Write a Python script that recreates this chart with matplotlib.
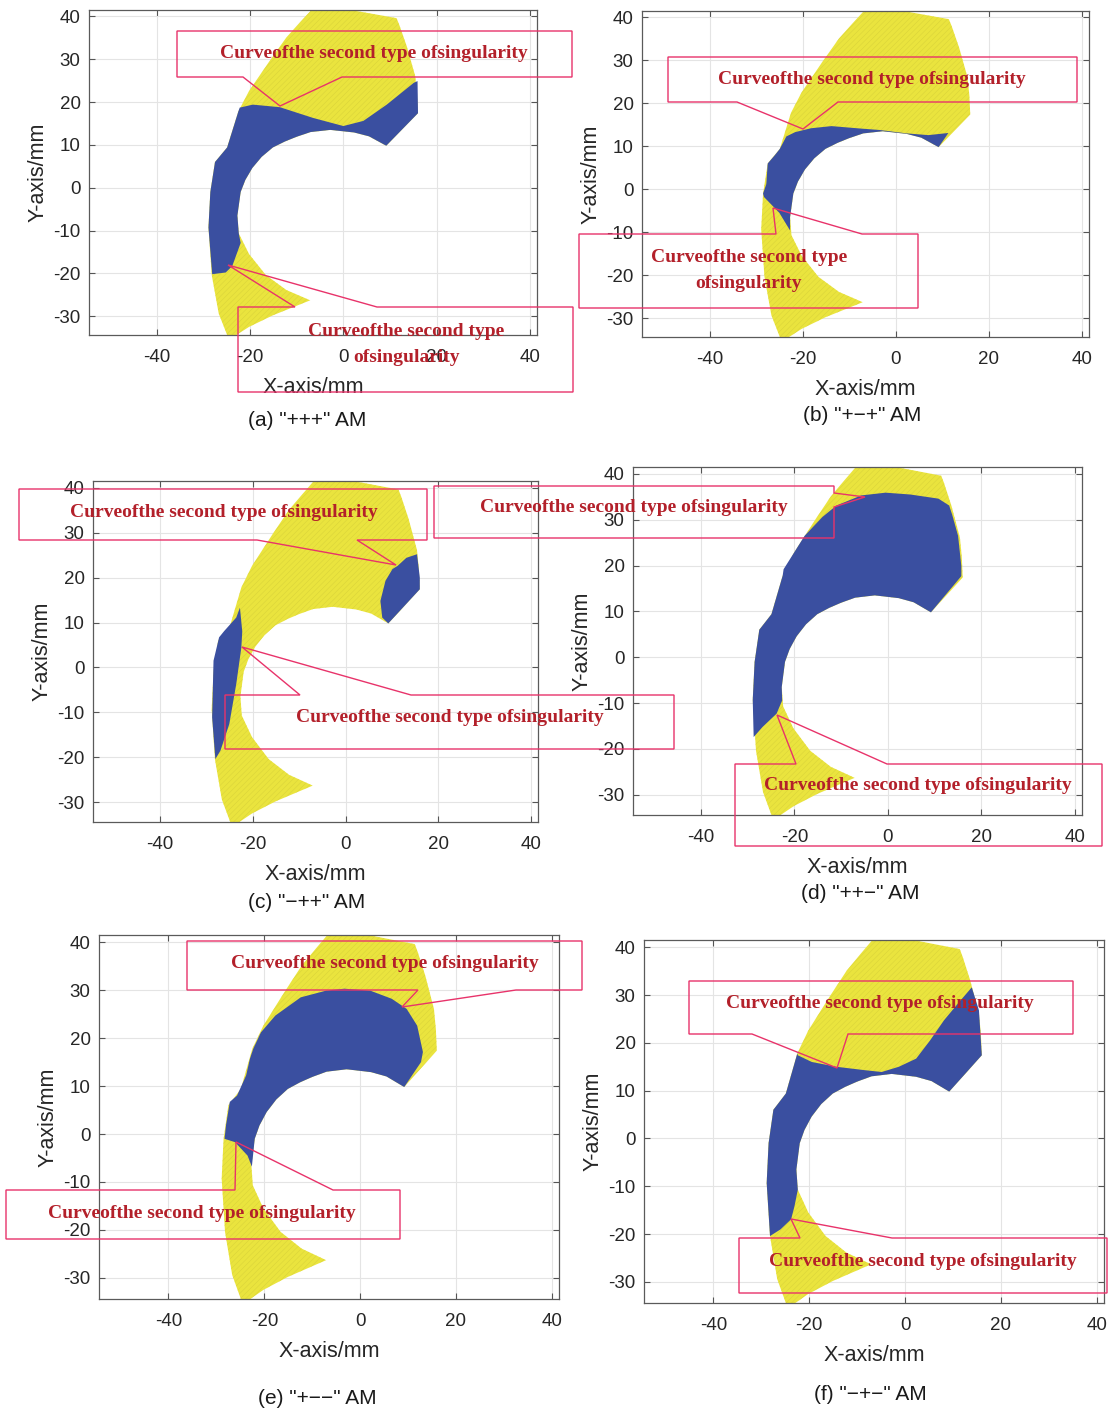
import matplotlib
matplotlib.use("Agg")
import matplotlib.pyplot as plt
from matplotlib.patches import Polygon

W, H, DPI = 1114, 1409, 100

plt.rcParams["axes.unicode_minus"] = False
plt.rcParams["hatch.linewidth"] = 0.35

YELLOW = "#EAE43E"
HATCH = "#D8D23A"
BLUE = "#3A4FA0"
PINK = "#E8336A"
DARKRED = "#B3202A"

# ---------------------------------------------------------------------------
# Reachable workspace of the moving platform (mm): closed outline
ws_x = [-6.0, -3.5, 11.4, 12.0, 13.6, 15.4, 15.8, 16.0, 9.2,
        5.5, 2.3, -2.8, -7.0, -10.0, -12.5, -15.1, -17.5, -19.5, -21.0, -22.0,
        -22.7, -22.4, -20.2, -16.6, -12.2, -7.1,
        -15.1, -20.2, -24.5,
        -26.7, -28.2, -28.9, -28.5, -27.5, -24.9, -23.5, -22.5, -20.2, -15.8,
        -12.2, -9.3]
ws_y = [42.5, 42.5, 39.6, 38.0, 33.0, 26.1, 21.9, 17.4, 9.8,
        12.0, 12.9, 13.5, 13.0, 11.9, 10.8, 9.4, 7.2, 4.6, 1.8, -1.0,
        -6.5, -10.7, -15.5, -20.4, -23.9, -26.3,
        -29.8, -32.5, -35.5,
        -29.4, -20.4, -9.3, -1.0, 6.0, 9.4, 14.3, 17.8, 22.6, 29.6,
        35.1, 38.6]

# Sub-region reachable in each assembly mode (mm)
blue_a_x = [-22.2, -19.4, -13.6, -6.5, 0.0, 4.3, 9.3, 15.1, 15.9, 16.0, 9.2,
            5.5, 2.3, -2.8, -7.0, -10.0, -12.5, -15.1, -17.5, -19.5, -21.0,
            -22.0, -22.7, -22.4, -22.0, -23.8, -25.2, -28.1, -28.9, -28.5,
            -27.5, -24.9, -23.5, -22.5]
blue_a_y = [18.7, 19.4, 18.8, 16.3, 14.4, 15.6, 19.4, 24.5, 24.9, 17.4, 9.8,
            12.0, 12.9, 13.5, 13.0, 11.9, 10.8, 9.4, 7.2, 4.6, 1.8,
            -1.0, -6.5, -10.7, -12.9, -18.3, -19.8, -20.2, -9.3, -1.0,
            6.0, 9.4, 14.3, 17.8]

blue_b_x = [-23.5, -21.6, -18.2, -13.8, -7.2, -3.5, 2.4, 7.0, 11.3, 9.2,
            5.5, 2.3, -2.8, -7.0, -10.0, -12.5, -15.1, -17.5, -19.5, -21.0,
            -22.0, -22.7, -22.7, -25.0, -28.3, -28.5, -27.8, -27.5, -26.0,
            -24.9]
blue_b_y = [12.3, 13.3, 14.2, 14.7, 14.1, 13.8, 13.0, 12.6, 13.1, 9.8,
            12.0, 12.9, 13.5, 13.0, 11.9, 10.8, 9.4, 7.2, 4.6, 1.8,
            -1.0, -6.5, -9.6, -5.5, -1.8, -1.0, 1.2, 6.0, 7.9,
            9.4]

blue_c1_x = [11.2, 13.1, 15.4, 16.0, 16.0, 9.2, 7.9, 7.5, 8.6, 10.1]
blue_c1_y = [22.6, 24.4, 25.2, 20.0, 17.4, 9.8, 11.1, 14.8, 19.3, 21.9]
blue_c2_x = [-22.8, -22.3, -22.5, -23.6, -25.1, -27.0, -28.1, -28.8, -28.5,
             -27.3, -26.2, -23.6]
blue_c2_y = [13.3, 8.0, 4.4, -3.7, -12.6, -18.5, -20.4, -11.1, 1.5,
             6.7, 8.1, 11.1]

blue_d_x = [-22.3, -17.8, -14.0, -11.0, -5.7, -0.5, 4.8, 10.8, 13.1, 13.8,
            15.0, 15.7, 15.7, 9.2, 5.5, 2.3, -2.8, -7.0, -10.0, -12.5, -15.1,
            -17.5, -19.5, -21.0, -22.0, -22.7, -22.6, -23.8, -26.8, -28.7,
            -28.9, -28.5, -27.5, -24.9, -23.5, -22.5]
blue_d_y = [19.2, 26.5, 30.6, 33.1, 35.3, 35.9, 35.5, 34.6, 33.1, 30.9,
            26.5, 19.9, 17.7, 9.8, 12.0, 12.9, 13.5, 13.0, 11.9, 10.8, 9.4,
            7.2, 4.6, 1.8, -1.0, -6.5, -9.4, -12.3, -15.2, -17.4,
            -9.3, -1.0, 6.0, 9.4, 14.3, 17.8]

blue_e_x = [-22.3, -20.7, -17.7, -12.4, -7.1, -3.3, 2.1, 6.6, 9.7, 11.9,
            13.1, 12.7, 9.2, 5.5, 2.3, -2.8, -7.0, -10.0, -12.5, -15.1, -17.5,
            -19.5, -21.0, -22.0, -22.6, -23.5, -26.1, -28.3, -28.0, -27.2,
            -25.7, -23.8, -23.0]
blue_e_y = [17.8, 21.2, 24.7, 28.5, 29.9, 30.3, 29.9, 28.2, 26.1, 22.6,
            17.1, 15.0, 9.8, 12.0, 12.9, 13.5, 13.0, 11.9, 10.8, 9.4, 7.2,
            4.6, 1.8, -1.0, -6.8, -4.5, -1.7, -1.0, 1.8, 6.7,
            8.0, 12.2, 15.7]

blue_f_x = [-22.4, -19.5, -14.4, -8.6, -4.9, -1.3, 2.3, 5.2, 8.1, 11.0, 13.9,
            15.4, 16.0, 9.2, 5.5, 2.3, -2.8, -7.0, -10.0, -12.5, -15.1, -17.5,
            -19.5, -21.0, -22.0, -22.7, -22.4, -23.1, -23.8, -26.0, -28.2,
            -28.9, -28.5, -27.5, -24.9, -23.5, -22.5]
blue_f_y = [17.4, 16.0, 15.0, 14.3, 13.9, 15.0, 16.7, 20.5, 24.7, 28.2, 31.6,
            26.8, 17.4, 9.8, 12.0, 12.9, 13.5, 13.0, 11.9, 10.8, 9.4, 7.2,
            4.6, 1.8, -1.0, -6.5, -10.7, -14.2, -16.9, -19.0, -20.4,
            -9.3, -1.0, 6.0, 9.4, 14.3, 17.8]

captions = ['(a) "+++" AM', '(b) "+\u2212+" AM', '(c) "\u2212++" AM',
            '(d) "++\u2212" AM', '(e) "+\u2212\u2212" AM', '(f) "\u2212+\u2212" AM']
blue_regions = [
    [(blue_a_x, blue_a_y)],
    [(blue_b_x, blue_b_y)],
    [(blue_c1_x, blue_c1_y), (blue_c2_x, blue_c2_y)],
    [(blue_d_x, blue_d_y)],
    [(blue_e_x, blue_e_y)],
    [(blue_f_x, blue_f_y)],
]
x_ticks = [-40, -20, 0, 20, 40]
y_ticks = [-30, -20, -10, 0, 10, 20, 30, 40]
callout_text = "Curveofthe second type ofsingularity"

# ---------------------------------------------------------------------------
# Layout (pixels, origin at top-left of the figure)
axes_px = [(89, 10, 537, 335), (642, 11, 1089, 337),
           (93, 481, 538, 822), (633, 467, 1082, 815),
           (99, 935, 559, 1299), (644, 940, 1104, 1303)]
caption_px = [(307, 420), (862, 416), (307, 902), (860, 894),
              (317, 1398), (870, 1394)]

# callouts: box (x0, y0, x1, y1), side with the pointer, pointer base, tip,
# text lines with their centres
callouts = [
    ((177, 31, 572, 77), "bottom", (243, 342), (280, 106), [(callout_text, 374, 53)]),
    ((238, 307, 573, 392), "top", (295, 377), (228, 265),
     [("Curveofthe second type", 406, 331), ("ofsingularity", 406, 357)]),
    ((668, 57, 1077, 102), "bottom", (737, 838), (803, 129), [(callout_text, 872, 80)]),
    ((579, 234, 918, 308), "top", (776, 862), (773, 208),
     [("Curveofthe second type", 749, 257), ("ofsingularity", 749, 284)]),
    ((19, 489, 427, 540), "bottom", (257, 357), (396, 565), [(callout_text, 224, 512)]),
    ((225, 695, 674, 749), "top", (300, 411), (242, 647), [(callout_text, 450, 718)]),
    ((434, 486, 834, 538), "right", (493, 507), (865, 497), [(callout_text, 634, 508)]),
    ((735, 764, 1102, 846), "top", (796, 887), (777, 715), [(callout_text, 918, 786)]),
    ((187, 941, 582, 990), "bottom", (418, 516), (402, 1007), [(callout_text, 385, 964)]),
    ((6, 1190, 400, 1239), "top", (235, 333), (236, 1142), [(callout_text, 202, 1213)]),
    ((689, 981, 1073, 1034), "bottom", (752, 848), (837, 1068), [(callout_text, 880, 1004)]),
    ((739, 1238, 1107, 1293), "top", (800, 892), (791, 1219), [(callout_text, 923, 1261)]),
]


def fig_xy(x, y):
    return (x / W, 1 - y / H)


fig = plt.figure(figsize=(W / DPI, H / DPI), dpi=DPI)
fig.patch.set_facecolor("white")

for (l, t, r, b), cap, regions, (cx, cy) in zip(axes_px, captions, blue_regions, caption_px):
    ax = fig.add_axes([l / W, 1 - b / H, (r - l) / W, (b - t) / H])
    ax.set_xlim(-54.5, 41.5)
    ax.set_ylim(-34.4, 41.5)
    ax.set_axisbelow(True)
    ax.grid(True, color="#e4e4e4", lw=0.8)
    ax.fill(ws_x, ws_y, facecolor=YELLOW, edgecolor=HATCH, hatch="//////",
            lw=0, zorder=2)
    for bx, by in regions:
        ax.fill(bx, by, facecolor=BLUE, edgecolor="none", lw=0, zorder=3)
    ax.set_xticks(x_ticks)
    ax.set_yticks(y_ticks)
    ax.tick_params(direction="in", top=True, right=True, length=4, width=0.8,
                   color="#555555", labelcolor="#262626", labelsize=13.5)
    ax.tick_params(axis="x", pad=10)
    ax.tick_params(axis="y", pad=6)
    for lab in ax.get_xticklabels() + ax.get_yticklabels():
        lab.set_family("Liberation Sans")
    for s in ax.spines.values():
        s.set_color("#5a5a5a")
        s.set_linewidth(0.9)
    ax.set_xlabel("X-axis/mm", fontsize=15.5, family="Liberation Sans",
                  color="#262626", labelpad=8)
    ax.set_ylabel("Y-axis/mm", fontsize=15.5, family="Liberation Sans",
                  color="#262626", labelpad=3.5)
    fig.text(*fig_xy(cx, cy), cap, ha="center", va="center", fontsize=15,
             family=["Liberation Sans Narrow", "Liberation Sans", "DejaVu Sans"],
             color="#1a1a1a")

for (x0, y0, x1, y1), side, (b1, b2), (tx, ty), lines in callouts:
    if side == "bottom":
        pts = [(x0, y0), (x1, y0), (x1, y1), (b2, y1), (tx, ty), (b1, y1), (x0, y1)]
    elif side == "top":
        pts = [(x0, y0), (b1, y0), (tx, ty), (b2, y0), (x1, y0), (x1, y1), (x0, y1)]
    else:
        pts = [(x0, y0), (x1, y0), (x1, b1), (tx, ty), (x1, b2), (x1, y1), (x0, y1)]
    poly = Polygon([fig_xy(*p) for p in pts], closed=True, fill=False,
                   edgecolor=PINK, lw=1.0, transform=fig.transFigure, zorder=5)
    fig.add_artist(poly)
    for s, tx_, ty_ in lines:
        fig.text(*fig_xy(tx_, ty_), s, ha="center", va="center", fontsize=14,
                 fontweight="bold", family="Liberation Serif", color=DARKRED,
                 zorder=6)

fig.savefig("out.png", dpi=DPI)
